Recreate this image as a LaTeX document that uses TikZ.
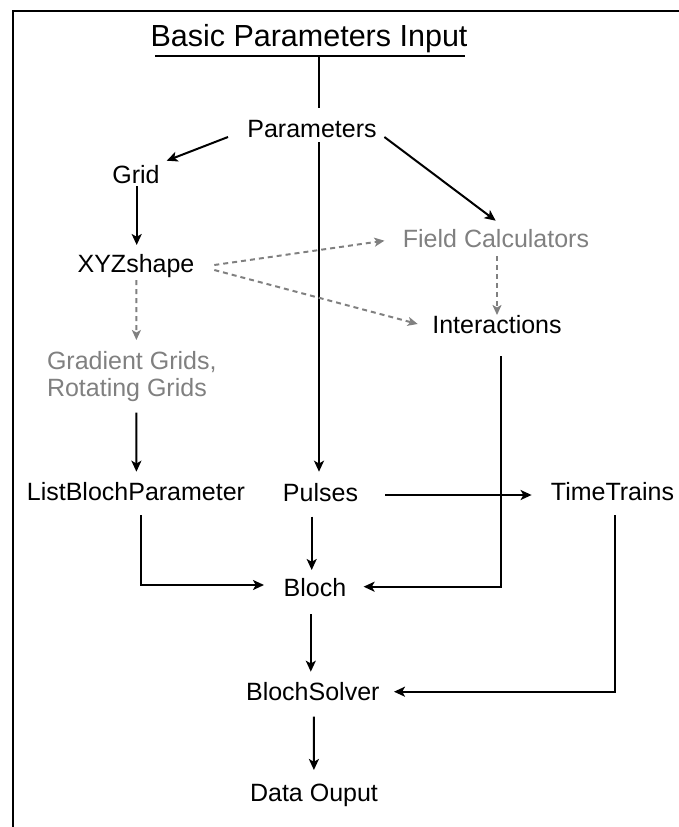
\documentclass[tikz,border=0pt]{standalone}
\usepackage{fontspec}
\setmainfont{Liberation Sans}
\usetikzlibrary{arrows.meta,calc}
\definecolor{softgray}{RGB}{128,128,128}
\tikzset{
  txt/.style={inner sep=0pt, anchor=base, text height=17pt, text depth=0pt,
    font=\fontsize{25}{26}\selectfont},
  faded/.style={text=softgray},
  wire/.style={line width=2pt, draw=black},
  arr/.style={wire, -{Stealth[length=11pt,width=10pt,inset=2.8pt]}},
  dasharr/.style={line width=2pt, draw=softgray, dash pattern=on 5pt off 4pt,
    -{Stealth[length=10pt,width=9pt,inset=2.5pt,fill=softgray]}},
  frame/.style={line width=2.7pt, draw=black}
}
\begin{document}
\begin{tikzpicture}[x=1pt,y=-1pt]
\useasboundingbox (0,0) rectangle (679,827);
% outer frame: top and left edges only
\coordinate (tl) at (13,11);
\coordinate (tr) at (679,11);
\coordinate (bl) at (13,827);
\draw[frame] (tr) -- (tl) -- (bl);

% heading
\node[inner sep=0pt, anchor=base, font=\fontsize{30.5}{32}\selectfont] (title) at (309,46) {Basic Parameters Input};
\draw[line width=2.5pt] ($(title.base)+(-154,10)$) -- ($(title.base)+(156,10)$);

% nodes
\node[txt] (par) at (312,137) {Parameters};
\node[txt] (grid) at (136,183) {Grid};
\node[txt] (xyz) at (136,272.7) {XYZshape};
\node[txt,faded] (field) at (496,247.3) {Field Calculators};
\node[txt] (inter) at (497,333) {Interactions};
\node[inner sep=0pt, anchor=north west, align=left, faded,
  font=\fontsize{25}{27}\selectfont] (grad) at (46.8,351) {Gradient Grids,\\Rotating Grids};
\node[txt] (lbp) at (136,500) {ListBlochParameter};
\node[txt] (pulses) at (320.5,501) {Pulses};
\node[txt] (tt) at (612.5,500) {TimeTrains};
\node[txt] (bloch) at (315,596) {Bloch};
\node[txt] (solver) at (312.8,700) {BlochSolver};
\node[txt] (data) at (314,801.7) {Data Ouput};

% connectors
\draw[wire] ($(title.base)+(10,10)$) -- ($(par.base)+(7,-29)$);
\draw[arr] ($(par.base)+(7,5)$) -- ($(pulses.base)+(-1.5,-29.3)$);
\draw[arr] ($(par.base)+(-84,0)$) -- ($(grid.base)+(30.7,-22.3)$);
\draw[arr] ($(par.base)+(72.4,0)$) -- ($(field.base)+(-0.3,-26.6)$);
\draw[arr] ($(grid.base)+(0.7,3)$) -- ($(xyz.base)+(0.7,-27.7)$);
\draw[dasharr] ($(xyz.base)+(78.3,-7.7)$) -- ($(field.base)+(-111.6,-6.6)$);
\draw[dasharr] ($(xyz.base)+(78.3,-2.7)$) -- ($(inter.base)+(-79.3,-9)$);
\draw[dasharr] ($(xyz.base)+(0.4,7.3)$) -- ($(grad.north west)+(89.6,-11)$);
\draw[dasharr] ($(field.base)+(1,8.7)$) -- ($(inter.base)+(0,-18)$);
\draw[arr] ($(grad.north west)+(89.6,61.7)$) -- ($(lbp.base)+(0.4,-28.3)$);
\draw[arr] ($(pulses.base)+(64.5,-6)$) -- ($(tt.base)+(-80.9,-5)$);
\draw[arr] ($(pulses.base)+(-8.8,15.7)$) -- ($(bloch.base)+(-3.3,-26)$);
\draw[arr] ($(lbp.base)+(4.7,15)$) |- ($(bloch.base)+(-51,-11)$);
\draw[arr] ($(inter.base)+(4.3,23)$) |- ($(bloch.base)+(48.6,-9.3)$);
\draw[arr] ($(bloch.base)+(-4.2,18)$) -- ($(solver.base)+(-2,-28.3)$);
\draw[arr] ($(tt.base)+(2.2,15)$) |- ($(solver.base)+(81.2,-8.3)$);
\draw[arr] ($(solver.base)+(1.1,16.7)$) -- ($(data.base)+(-0.1,-31.7)$);
\end{tikzpicture}
\end{document}
